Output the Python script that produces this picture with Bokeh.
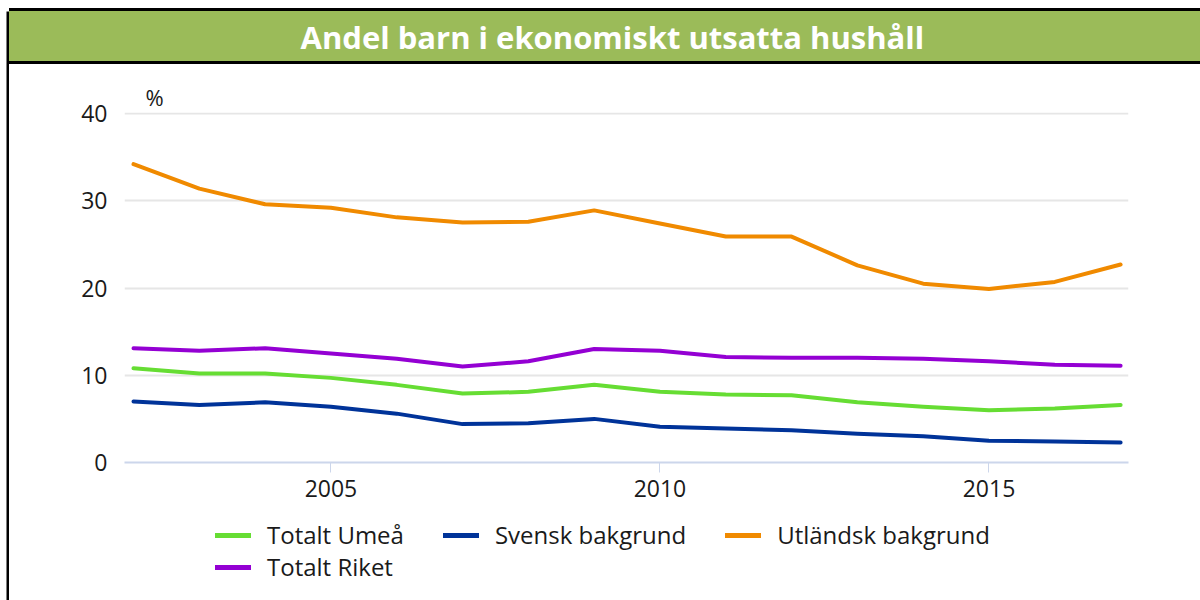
from bokeh.plotting import figure
from bokeh.layouts import row, column
from bokeh.models import (Range1d, FixedTicker, Legend, LegendItem, Title)
from bokeh.embed import file_html
from bokeh.resources import INLINE

# ---- data ----
title_text = "Andel barn i ekonomiskt utsatta hushåll"
years = list(range(2002, 2018))
totalt_umea = [10.8, 10.2, 10.2, 9.7, 8.9, 7.9, 8.1, 8.9, 8.1, 7.8, 7.7, 6.9, 6.4, 6.0, 6.2, 6.6]
svensk = [7.0, 6.6, 6.9, 6.4, 5.6, 4.4, 4.5, 5.0, 4.1, 3.9, 3.7, 3.3, 3.0, 2.5, 2.4, 2.3]
utlandsk = [34.2, 31.4, 29.6, 29.2, 28.1, 27.5, 27.6, 28.9, 27.4, 25.9, 25.9, 22.6, 20.5, 19.9, 20.7, 22.7]
totalt_riket = [13.1, 12.8, 13.1, 12.5, 11.9, 11.0, 11.6, 13.0, 12.8, 12.1, 12.0, 12.0, 11.9, 11.6, 11.2, 11.1]
series_names = ["Totalt Umeå", "Svensk bakgrund", "Utländsk bakgrund", "Totalt Riket"]
series_values = [totalt_umea, svensk, utlandsk, totalt_riket]
series_colors = ["#66dd33", "#003399", "#f08a00", "#9400d3"]
y_ticks = [0, 10, 20, 30, 40]
x_ticks = [2005, 2010, 2015]
y_unit = "%"

FONT = "Open Sans"
TEXT_COLOR = "#1a1a1a"
LEFT_W = 9
MAIN_W = 1200 - LEFT_W
MAIN_H = 510
LEG_H = 600 - MAIN_H
FRAME_L, FRAME_W = 124 - LEFT_W, 1004


def bare(fig):
    fig.title.visible = False
    fig.xgrid.visible = False
    fig.ygrid.visible = False
    fig.outline_line_color = None
    fig.border_fill_color = "white"


# ---- thin black frame line on the left ----
left_bar = figure(width=LEFT_W, height=600, x_range=Range1d(0, 1), y_range=Range1d(0, 1),
                  output_backend="svg", toolbar_location=None,
                  x_axis_location=None, y_axis_location=None,
                  min_border_left=6, min_border_right=0, min_border_top=11, min_border_bottom=0)
bare(left_bar)
left_bar.background_fill_color = "black"

# ---- main chart ----
p = figure(width=MAIN_W, height=MAIN_H,
           x_range=Range1d(2001.863, 2017.12), y_range=Range1d(0, 40.12),
           output_backend="svg", toolbar_location=None,
           min_border_left=FRAME_L, min_border_right=MAIN_W - FRAME_L - FRAME_W,
           min_border_top=112, min_border_bottom=MAIN_H - 462)
p.title.visible = False
p.outline_line_color = None
p.background_fill_color = "white"
p.border_fill_color = "white"

p.xgrid.visible = False
p.ygrid.grid_line_color = "#e6e6e6"
p.ygrid.grid_line_width = 2

p.yaxis.ticker = FixedTicker(ticks=y_ticks)
p.yaxis.axis_line_color = None
p.yaxis.major_tick_line_color = None
p.yaxis.minor_tick_line_color = None
p.yaxis.major_label_standoff = 11
p.yaxis.major_label_text_font = FONT
p.yaxis.major_label_text_font_size = "23px"
p.yaxis.major_label_text_color = TEXT_COLOR

p.xaxis.ticker = FixedTicker(ticks=x_ticks)
p.xaxis.axis_line_color = "#ccd6eb"
p.xaxis.axis_line_width = 2
p.xaxis.major_tick_line_color = "#ccd6eb"
p.xaxis.major_tick_line_width = 1
p.xaxis.major_tick_in = 0
p.xaxis.major_tick_out = 10
p.xaxis.minor_tick_line_color = None
p.xaxis.major_label_standoff = 7
p.xaxis.major_label_text_font = FONT
p.xaxis.major_label_text_font_size = "23px"
p.xaxis.major_label_text_color = TEXT_COLOR

for vals, col in zip(series_values, series_colors):
    p.line(years, vals, line_color=col, line_width=4, line_join="round", line_cap="round")

# unit label just above the plot area
p.add_layout(Title(text=y_unit, align="left", offset=21, standoff=2,
                   text_font=FONT, text_font_size="22px", text_font_style="normal",
                   text_color=TEXT_COLOR,
                   padding=dict(left=0, right=0, top=16, bottom=0)), "above")

# chart title in a green header band
p.add_layout(Title(text=title_text, align="left", offset=-FRAME_L - 2, standoff=0,
                   text_font=FONT, text_font_size="31px", text_font_style="bold",
                   text_color="white",
                   background_fill_color="#9bbb59",
                   border_line_color="black", border_line_width=3,
                   padding=dict(left=293, right=330, top=6, bottom=5)), "above")

# ---- legend strip below the chart ----
leg = figure(width=MAIN_W, height=LEG_H, x_range=Range1d(0, 1), y_range=Range1d(0, 1),
             output_backend="svg", toolbar_location=None,
             x_axis_location=None, y_axis_location=None, min_border=0)
bare(leg)
leg.background_fill_color = "white"
items = []
for name, vals, col in zip(series_names, series_values, series_colors):
    # same series; these copies lie outside this strip's ranges and only feed the legend
    r = leg.line(years, vals, line_color=col, line_width=5, line_cap="round")
    items.append(LegendItem(label=name, renderers=[r]))

legend_style = dict(orientation="horizontal", border_line_color=None, background_fill_alpha=0,
                    label_text_font=FONT, label_text_font_size="24px",
                    label_text_color=TEXT_COLOR, glyph_width=36, glyph_height=20,
                    label_standoff=16, spacing=39, padding=0, margin=0)
leg.add_layout(Legend(items=items[:3], location=(91, 49), **legend_style), "center")
leg.add_layout(Legend(items=items[3:], location=(91, 17), **legend_style), "center")

layout = row(left_bar, column(p, leg, spacing=0), spacing=0)
open("out.html", "w").write(file_html(layout, INLINE))
